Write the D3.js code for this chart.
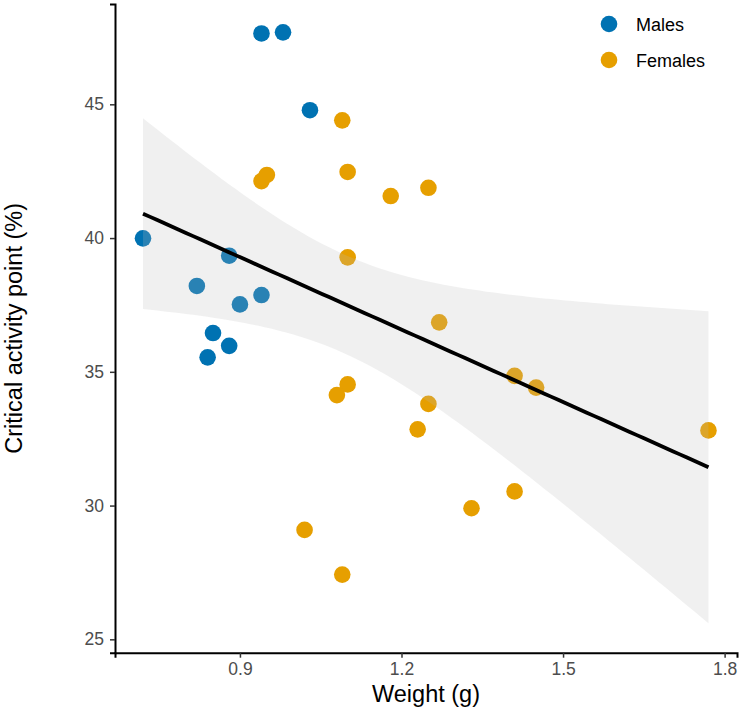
<!DOCTYPE html>
<html>
<head>
<meta charset="utf-8">
<script src="https://cdn.jsdelivr.net/npm/d3@7"></script>
<style>
  body { margin: 0; background: #fff; }
  text { font-family: "Liberation Sans", Arial, sans-serif; }
</style>
</head>
<body>
<svg id="chart" width="740" height="714"></svg>
<script>
// data
var maleWeight = [0.94, 0.98, 1.03, 0.72, 0.88, 0.82, 0.94, 0.90, 0.85, 0.88, 0.84];
var maleCap    = [47.65, 47.69, 44.78, 39.99, 39.34, 38.21, 37.87, 37.52, 36.45, 35.97, 35.54];

var femaleWeight = [1.09, 0.94, 0.95, 1.10, 1.18, 1.25, 1.10, 1.27, 1.41, 1.45, 1.25, 1.23, 1.77, 1.10, 1.08, 1.02, 1.09, 1.33, 1.41];
var femaleCap    = [44.40, 42.13, 42.36, 42.47, 41.57, 41.88, 39.28, 36.85, 34.85, 34.41, 33.80, 32.85, 32.81, 34.53, 34.13, 29.09, 27.42, 29.90, 30.53];

var groups = ['Males', 'Females'];
var groupColors = ['#0072B2', '#E69F00'];
var xTicks = [0.9, 1.2, 1.5, 1.8];
var yTicks = [25, 30, 35, 40, 45];

(function () {
  // panel box
  var pLeft = 115, pRight = 737, pTop = 4, pBottom = 652.7;

  var svg = d3.select('#chart');

  var x = d3.scaleLinear().domain([0.668, 1.823]).range([pLeft, pRight]);
  var y = d3.scaleLinear().domain([24.5, 48.75]).range([pBottom, pTop]);

  //build point list
  var points = [];
  maleWeight.forEach(function (w, i) { points.push({ w: w, c: maleCap[i], g: 0 }); });
  femaleWeight.forEach(function (w, i) { points.push({ w: w, c: femaleCap[i], g: 1 }); });

  //linear fit with 95% confidence band (like geom_smooth(method = lm))
  var n = points.length;
  var mx = d3.mean(points, function (d) { return d.w; });
  var my = d3.mean(points, function (d) { return d.c; });
  var sxx = d3.sum(points, function (d) { return (d.w - mx) * (d.w - mx); });
  var sxy = d3.sum(points, function (d) { return (d.w - mx) * (d.c - my); });
  var slope = sxy / sxx, icpt = my - slope * mx;
  var sse = d3.sum(points, function (d) { var r = d.c - (icpt + slope * d.w); return r * r; });
  var se = Math.sqrt(sse / (n - 2));
  var tq = 2.048; // qt(0.975, 28)

  var xmin = d3.min(points, function (d) { return d.w; });
  var xmax = d3.max(points, function (d) { return d.w; });
  var band = d3.range(80).map(function (i) {
    var xv = xmin + (xmax - xmin) * i / 79;
    var fit = icpt + slope * xv;
    var half = tq * se * Math.sqrt(1 / n + (xv - mx) * (xv - mx) / sxx);
    return { x: xv, fit: fit, lo: fit - half, hi: fit + half };
  });

  //points
  svg.append('g').selectAll('circle')
    .data(points)
    .enter().append('circle')
    .attr('cx', function (d) { return x(d.w); })
    .attr('cy', function (d) { return y(d.c); })
    .attr('r', 8.3)
    .attr('fill', function (d) { return groupColors[d.g]; });

  //ribbon over the points
  svg.append('path')
    .datum(band)
    .attr('fill', '#b9b9b9')
    .attr('fill-opacity', 0.22)
    .attr('d', d3.area()
      .x(function (d) { return x(d.x); })
      .y0(function (d) { return y(d.lo); })
      .y1(function (d) { return y(d.hi); }));

  svg.append('path')
    .datum(band)
    .attr('fill', 'none')
    .attr('stroke', '#000')
    .attr('stroke-width', 3.8)
    .attr('d', d3.line()
      .x(function (d) { return x(d.x); })
      .y(function (d) { return y(d.fit); }));

  //axes
  var xAxis = svg.append('g')
    .attr('transform', 'translate(0,' + pBottom + ')')
    .call(d3.axisBottom(x).tickValues(xTicks).tickSize(5).tickPadding(5).tickFormat(d3.format('.1f')));
  var yAxis = svg.append('g')
    .attr('transform', 'translate(' + pLeft + ',0)')
    .call(d3.axisLeft(y).tickValues(yTicks).tickSize(5).tickPadding(6));

  [xAxis, yAxis].forEach(function (a) {
    a.attr('font-size', 17.5).attr('font-family', '"Liberation Sans", Arial, sans-serif');
    a.select('.domain').attr('stroke', '#000').attr('stroke-width', 2);
    a.selectAll('.tick line').attr('stroke', '#333').attr('stroke-width', 1.5);
    a.selectAll('.tick text').attr('fill', '#4d4d4d');
  });

  svg.append('text')
    .attr('x', (pLeft + pRight) / 2)
    .attr('y', 702)
    .attr('text-anchor', 'middle')
    .style('font-size', '23.5px')
    .text('Weight (g)');

  svg.append('text')
    .attr('transform', 'translate(22,' + (pTop + pBottom) / 2 + ') rotate(-90)')
    .attr('text-anchor', 'middle')
    .style('font-size', '23.5px')
    .text('Critical activity point (%)');

  //legend
  var legend = svg.append('g').attr('transform', 'translate(609,24)');
  var item = legend.selectAll('g')
    .data(groups)
    .enter().append('g')
    .attr('transform', function (d, i) { return 'translate(0,' + i * 36 + ')'; });
  item.append('circle')
    .attr('r', 8.3)
    .attr('fill', function (d, i) { return groupColors[i]; });
  item.append('text')
    .attr('x', 27)
    .attr('y', 6.5)
    .style('font-size', '18px')
    .text(function (d) { return d; });
})();
</script>
</body>
</html>
